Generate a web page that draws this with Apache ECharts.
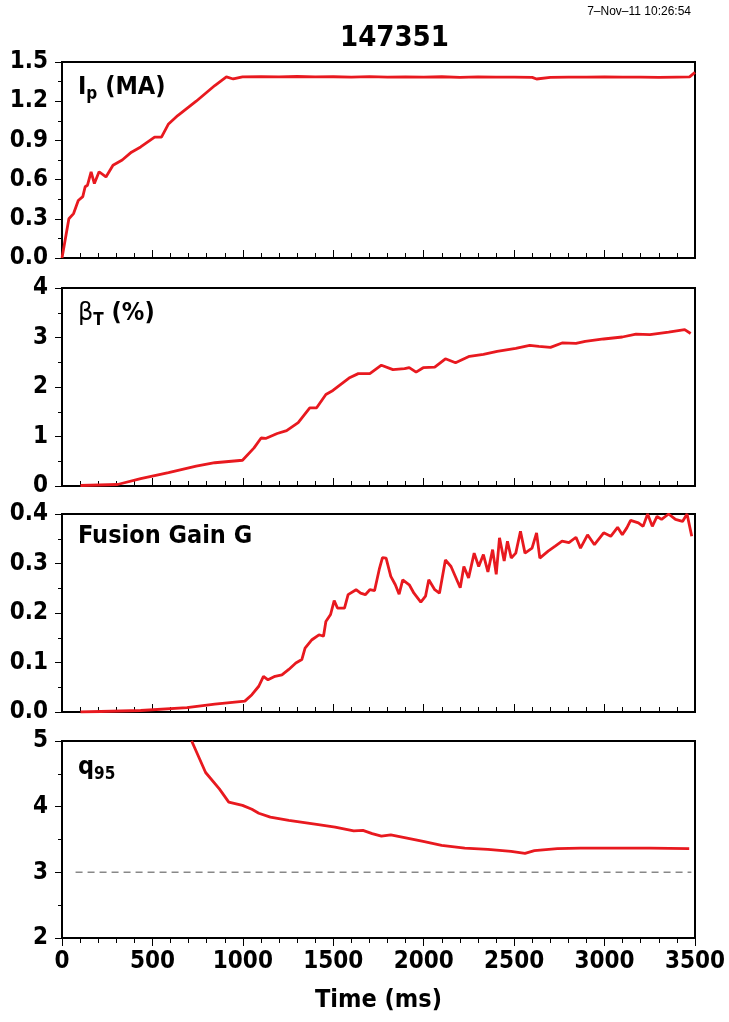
<!DOCTYPE html>
<html>
<head>
<meta charset="utf-8">
<script src="https://cdn.jsdelivr.net/npm/echarts@6/dist/echarts.min.js"></script>
<style>
html,body{margin:0;padding:0;background:#fff;}
#c{width:729px;height:1022px;}
</style>
</head>
<body>
<div id="c"></div>
<script>
// ---- data ----
const ipTime = [0, 38, 64, 90, 115, 128, 141, 161, 179, 205, 243, 282, 333, 384, 435, 512, 550, 589, 640, 742, 845, 909, 947, 998,
  1100, 1200, 1300, 1400, 1500, 1600, 1700, 1800, 1900, 2000, 2100, 2200, 2300, 2400, 2500, 2600, 2624, 2700, 2800, 2900, 3000, 3100, 3200, 3300, 3400, 3470, 3500];
const ipVal = [0, 0.30, 0.34, 0.44, 0.47, 0.545, 0.557, 0.66, 0.57, 0.66, 0.62, 0.71, 0.75, 0.81, 0.85, 0.925, 0.925, 1.026, 1.09, 1.20, 1.32, 1.386, 1.37, 1.386,
  1.388, 1.386, 1.389, 1.386, 1.387, 1.385, 1.388, 1.384, 1.386, 1.385, 1.387, 1.383, 1.386, 1.385, 1.384, 1.382, 1.37, 1.383, 1.385, 1.384, 1.386, 1.384, 1.385, 1.383, 1.385, 1.386, 1.42];

const betaTime = [102, 307, 435, 589, 742, 845, 998, 1062, 1101, 1126, 1190, 1242, 1306, 1370, 1408, 1459, 1498, 1587, 1638, 1702, 1766, 1830, 1894, 1920, 1958, 1997, 2061, 2120, 2176, 2253, 2330, 2406, 2509, 2586, 2637, 2701, 2765, 2842, 2893, 2995, 3098, 3174, 3251, 3354, 3443, 3476];
const betaVal = [0.01, 0.03, 0.15, 0.27, 0.40, 0.47, 0.52, 0.77, 0.97, 0.96, 1.06, 1.12, 1.28, 1.58, 1.58, 1.85, 1.93, 2.18, 2.27, 2.27, 2.44, 2.35, 2.37, 2.39, 2.30, 2.39, 2.40, 2.57, 2.49, 2.62, 2.66, 2.72, 2.78, 2.84, 2.82, 2.80, 2.89, 2.88, 2.92, 2.97, 3.01, 3.07, 3.06, 3.11, 3.16, 3.08];

const gainTime = [102, 435, 691, 845, 1011, 1050, 1088, 1114, 1139, 1178, 1216, 1254, 1293, 1326, 1344, 1382, 1421, 1446, 1459, 1485, 1505, 1523, 1562, 1582, 1626, 1651, 1677, 1702, 1728, 1754, 1772, 1792, 1818, 1843, 1864, 1884, 1920, 1946, 1984, 2010, 2028, 2061, 2087, 2120, 2151, 2202, 2222, 2248, 2279, 2304, 2330, 2355, 2381, 2401, 2419, 2445, 2463, 2484, 2509, 2535, 2560, 2599, 2624, 2642, 2688, 2727, 2765, 2803, 2842, 2867, 2906, 2944, 2995, 3034, 3072, 3098, 3123, 3144, 3187, 3213, 3238, 3264, 3290, 3315, 3354, 3392, 3431, 3456, 3482];
const gainVal = [0.0, 0.003, 0.009, 0.016, 0.022, 0.035, 0.052, 0.072, 0.065, 0.072, 0.075, 0.086, 0.099, 0.106, 0.129, 0.146, 0.156, 0.153, 0.183, 0.197, 0.225, 0.21, 0.21, 0.237, 0.247, 0.24, 0.237, 0.247, 0.245, 0.288, 0.312, 0.311, 0.274, 0.257, 0.238, 0.267, 0.257, 0.24, 0.222, 0.234, 0.267, 0.247, 0.24, 0.307, 0.294, 0.251, 0.294, 0.271, 0.321, 0.294, 0.318, 0.283, 0.328, 0.278, 0.352, 0.305, 0.345, 0.311, 0.321, 0.365, 0.321, 0.331, 0.362, 0.311, 0.325, 0.335, 0.345, 0.342, 0.353, 0.331, 0.358, 0.338, 0.362, 0.355, 0.373, 0.358, 0.372, 0.387, 0.382, 0.375, 0.40, 0.375, 0.395, 0.389, 0.40, 0.389, 0.385, 0.40, 0.355];

const q95Time = [717, 794, 870, 922, 998, 1050, 1088, 1152, 1254, 1408, 1510, 1613, 1664, 1715, 1766, 1818, 1894, 1997, 2099, 2227, 2355, 2483, 2560, 2612, 2739, 2867, 2995, 3251, 3468];
const q95Val = [5.0, 4.52, 4.27, 4.07, 4.02, 3.96, 3.90, 3.84, 3.79, 3.73, 3.69, 3.63, 3.64, 3.59, 3.55, 3.57, 3.53, 3.47, 3.41, 3.37, 3.35, 3.32, 3.29, 3.33, 3.36, 3.37, 3.37, 3.37, 3.36];

const refTime = [75, 3480];
const refVal = [3, 3];

const timeTicks = ['0', '500', '1000', '1500', '2000', '2500', '3000', '3500'];
const shotTitle = '147351';
const stamp = '7\u2013Nov\u201311 10:26:54';

// ---- chart ----
const FONT = '"DejaVu Sans Condensed", "Liberation Sans", sans-serif';
const RED = '#e8191f';
const pairs = (xs, ys) => xs.map((x, i) => [x, ys[i]]);

const grids = [
  {left: 62, width: 633, top: 62, height: 196},
  {left: 62, width: 633, top: 288, height: 198},
  {left: 62, width: 633, top: 514, height: 198},
  {left: 62, width: 633, top: 741, height: 197}
].map(g => Object.assign(g, {show: true, borderColor: '#000', borderWidth: 2, backgroundColor: '#fff'}));

const yRanges = [
  {min: 0, max: 1.5, interval: 0.3, dec: 1},
  {min: 0, max: 4, interval: 1, dec: 0},
  {min: 0, max: 0.4, interval: 0.1, dec: 1},
  {min: 2, max: 5, interval: 1, dec: 0}
];

const xAxes = grids.map((g, i) => ({
  type: 'value', gridIndex: i, min: 0, max: 3500, interval: 500,
  axisLine: {show: true, lineStyle: {color: '#000', width: 2}},
  axisTick: {show: true, inside: i < 3, length: 8, lineStyle: {color: '#000', width: 1}},
  minorTick: {show: true, splitNumber: 5, length: 5, lineStyle: {color: '#000', width: 1}},
  splitLine: {show: false},
  axisLabel: {show: i === 3, color: '#000', fontFamily: FONT, fontWeight: 'bold', fontSize: 24, margin: 12,
    formatter: v => timeTicks[Math.round(v / 500)]},
  name: i === 3 ? 'Time (ms)' : '',
  nameLocation: 'middle', nameGap: 50,
  nameTextStyle: {color: '#000', fontFamily: FONT, fontWeight: 'bold', fontSize: 25}
}));

const yAxes = yRanges.map((r, i) => ({
  type: 'value', gridIndex: i, min: r.min, max: r.max, interval: r.interval,
  axisLine: {show: true, lineStyle: {color: '#000', width: 2}},
  axisTick: {show: true, inside: false, length: 7, lineStyle: {color: '#000', width: 1}},
  minorTick: {show: true, splitNumber: 2, length: 4, lineStyle: {color: '#000', width: 1}},
  splitLine: {show: false},
  axisLabel: {color: '#000', fontFamily: FONT, fontWeight: 'bold', fontSize: 24, margin: 14,
    formatter: v => v.toFixed(r.dec)}
}));

const lineSeries = (i, data) => ({
  type: 'line', xAxisIndex: i, yAxisIndex: i, data: data, showSymbol: false, symbol: 'none',
  lineStyle: {color: RED, width: 2.8}, clip: true, animation: false, z: 3
});

const labelStyle = {
  color: '#000', fontFamily: FONT, fontWeight: 'bold', fontSize: 25,
  rich: {
    m: {fontFamily: FONT, fontWeight: 'bold', fontSize: 25, color: '#000'},
    s: {fontFamily: FONT, fontWeight: 'bold', fontSize: 17, color: '#000', padding: [14, 0, 0, 0]},
    g: {fontFamily: 'DejaVu Sans', fontWeight: 'normal', fontSize: 24, color: '#000'}
  }
};

const option = {
  animation: false,
  backgroundColor: '#fff',
  title: [
    {text: shotTitle, left: 340, top: 24, padding: 0, textStyle: {color: '#000', fontFamily: FONT, fontWeight: 'bold', fontSize: 29}},
    {text: stamp, right: 38, top: 6, padding: 0, textStyle: {color: '#000', fontFamily: '"Liberation Sans", sans-serif', fontWeight: 'normal', fontSize: 12}},
    {text: '{m|I}{s|p}{m| (MA)}', left: 78, top: 72, padding: 0, textStyle: labelStyle},
    {text: '{g|\u03b2}{s|T}{m| (%)}', left: 78, top: 298, padding: 0, textStyle: labelStyle},
    {text: '{m|Fusion Gain G}', left: 78, top: 524, padding: 0, textStyle: labelStyle},
    {text: '{m|q}{s|95}', left: 78, top: 752, padding: 0, textStyle: labelStyle}
  ],
  grid: grids,
  xAxis: xAxes,
  yAxis: yAxes,
  series: [
    lineSeries(0, pairs(ipTime, ipVal)),
    lineSeries(1, pairs(betaTime, betaVal)),
    lineSeries(2, pairs(gainTime, gainVal)),
    lineSeries(3, pairs(q95Time, q95Val)),
    {type: 'line', xAxisIndex: 3, yAxisIndex: 3, data: pairs(refTime, refVal), showSymbol: false, symbol: 'none',
      lineStyle: {color: '#888', width: 1.5, type: [7, 5]}, animation: false, z: 2}
  ]
};

const chart = echarts.init(document.getElementById('c'), null, {renderer: 'canvas'});
chart.setOption(option);
</script>
</body>
</html>
